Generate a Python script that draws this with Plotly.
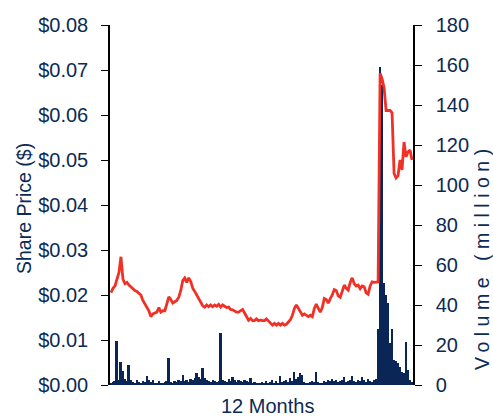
import plotly.graph_objects as go

# ~152 trading-day samples across the 12-month window
price = [
    0.0205, 0.0215, 0.0220, 0.0235, 0.0250, 0.0285, 0.0235, 0.0225, 0.0228, 0.0222,
    0.0218, 0.0212, 0.0210, 0.0208, 0.0205, 0.0200, 0.0188, 0.0180, 0.0172, 0.0165,
    0.0152, 0.0158, 0.0160, 0.0162, 0.0172, 0.0162, 0.0165, 0.0165, 0.0180, 0.0196,
    0.0190, 0.0182, 0.0185, 0.0188, 0.0195, 0.0210, 0.0232, 0.0238, 0.0228, 0.0238,
    0.0230, 0.0215, 0.0208, 0.0200, 0.0192, 0.0184, 0.0176, 0.0173, 0.0178, 0.0174,
    0.0178, 0.0174, 0.0178, 0.0175, 0.0179, 0.0173, 0.0178, 0.0175, 0.0172, 0.0173,
    0.0168, 0.0167, 0.0165, 0.0162, 0.0162, 0.0165, 0.0168, 0.0160, 0.0150, 0.0144,
    0.0148, 0.0143, 0.0143, 0.0147, 0.0143, 0.0144, 0.0143, 0.0143, 0.0147, 0.0142,
    0.0138, 0.0133, 0.0137, 0.0133, 0.0137, 0.0133, 0.0137, 0.0133, 0.0135, 0.0140,
    0.0145, 0.0155, 0.0170, 0.0178, 0.0170, 0.0160, 0.0155, 0.0158, 0.0155, 0.0152,
    0.0155, 0.0152, 0.0170, 0.0180, 0.0170, 0.0162, 0.0172, 0.0192, 0.0190, 0.0182,
    0.0192, 0.0200, 0.0212, 0.0210, 0.0198, 0.0195, 0.0208, 0.0222, 0.0215, 0.0211,
    0.0228, 0.0238, 0.0225, 0.0220, 0.0222, 0.0214, 0.0220, 0.0218, 0.0205, 0.0202,
    0.0220, 0.0229, 0.0228, 0.0229, 0.0229, 0.0693, 0.0680, 0.0660, 0.0610, 0.0610,
    0.0610, 0.0605, 0.0470, 0.0460, 0.0465, 0.0500, 0.0478, 0.0540, 0.0507, 0.0518,
    0.0522, 0.0500,
]

volume = [
    1.0, 1.5, 2.0, 22.0, 2.5, 11.5, 7.0, 3.0, 2.0, 10.0,
    2.5, 1.5, 1.2, 2.5, 1.5, 1.2, 2.0, 1.5, 4.5, 2.5,
    1.5, 2.5, 1.2, 0.8, 2.0, 1.0, 0.8, 1.5, 2.0, 13.5,
    1.5, 1.2, 2.0, 1.5, 2.5, 1.8, 5.0, 2.0, 2.5, 1.5,
    3.0, 2.5, 3.5, 6.0, 4.0, 3.0, 8.5, 3.5, 2.5, 2.0,
    1.5, 2.5, 1.8, 1.5, 2.0, 26.0, 2.5, 2.0, 1.5, 3.0,
    2.0, 4.0, 2.5, 1.5, 2.5, 2.0, 1.5, 2.5, 1.8, 1.5,
    3.5, 1.2, 1.5, 1.0, 1.2, 1.0, 1.5, 1.2, 2.0, 1.0,
    1.5, 2.5, 1.2, 1.8, 1.0, 4.5, 1.5, 2.0, 2.5, 1.5,
    3.5, 2.0, 6.5, 3.0, 4.0, 6.0, 5.0, 1.5, 1.2, 1.0,
    1.5, 2.0, 1.5, 6.5, 1.5, 1.0, 1.2, 2.0, 1.5, 2.5,
    2.0, 3.0, 2.0, 2.5, 1.5, 2.0, 2.5, 4.0, 1.5, 2.0,
    2.5, 4.5, 2.0, 1.5, 2.5, 2.0, 4.0, 2.5, 1.5, 3.0,
    2.0, 1.5, 2.5, 3.0, 28.0, 159.0, 150.0, 51.0, 45.0, 41.0,
    21.0, 28.0, 12.5, 12.0, 11.0, 9.0, 6.5, 6.0, 21.5, 7.5,
    2.5, 1.5,
]

days = list(range(len(price)))

price_ticks = [0.00, 0.01, 0.02, 0.03, 0.04, 0.05, 0.06, 0.07, 0.08]
volume_ticks = [0, 20, 40, 60, 80, 100, 120, 140, 160, 180]

NAVY = "#0b2a55"
BAR = "#0a2656"
RED = "#ef3126"
FONT = "Liberation Sans, Arial, sans-serif"

fig = go.Figure()
fig.add_trace(go.Bar(x=days, y=volume, yaxis="y", marker=dict(color=BAR, line=dict(width=0)),
                     name="Volume"))
fig.add_trace(go.Scatter(x=days, y=price, yaxis="y2", mode="lines",
                         line=dict(color=RED, width=2.8), name="Share Price"))

fig.update_layout(
    width=493, height=416,
    margin=dict(l=110, r=80, t=25, b=31),
    paper_bgcolor="white", plot_bgcolor="white",
    showlegend=False, bargap=0,
    font=dict(family=FONT, color=NAVY),
    xaxis=dict(range=[-0.5, len(days) - 0.5], showticklabels=False, ticks="",
               showgrid=False, zeroline=False, showline=False),
    yaxis=dict(side="right", range=[0, 180], tickvals=volume_ticks,
               ticks="outside", ticklen=7, tickcolor="black", tickwidth=1,
               showline=True, linecolor="black", linewidth=1.5,
               showgrid=False, zeroline=False, ticklabelstandoff=10,
               tickfont=dict(size=20, color=NAVY, family=FONT)),
    yaxis2=dict(side="left", overlaying="y", range=[0, 0.08], tickvals=price_ticks,
                tickformat="$.2f", ticks="outside", ticklen=7, tickcolor="black", tickwidth=1,
                showline=True, linecolor="black", linewidth=1.5,
                showgrid=False, zeroline=False, ticklabelstandoff=9,
                tickfont=dict(size=20, color=NAVY, family=FONT)),
    annotations=[
        dict(text="Share Price ($)", textangle=-90, xref="paper", yref="paper",
             x=0, y=0.5, xshift=-86, yshift=-4, showarrow=False, xanchor="center", yanchor="middle",
             font=dict(size=19.5, color=NAVY, family=FONT)),
        dict(text='<span style="letter-spacing:5.5px">Volume (million)</span>', textangle=-90,
             xref="paper", yref="paper",
             x=1, y=0.5, xshift=69, yshift=-52, showarrow=False, xanchor="center", yanchor="middle",
             font=dict(size=19.5, color=NAVY, family=FONT)),
        dict(text="12 Months", xref="paper", yref="paper", x=0.5, y=0, yshift=-21,
             xshift=6, showarrow=False, xanchor="center", yanchor="middle",
             font=dict(size=20, color=NAVY, family=FONT)),
    ],
)

fig.write_html("out.html")
